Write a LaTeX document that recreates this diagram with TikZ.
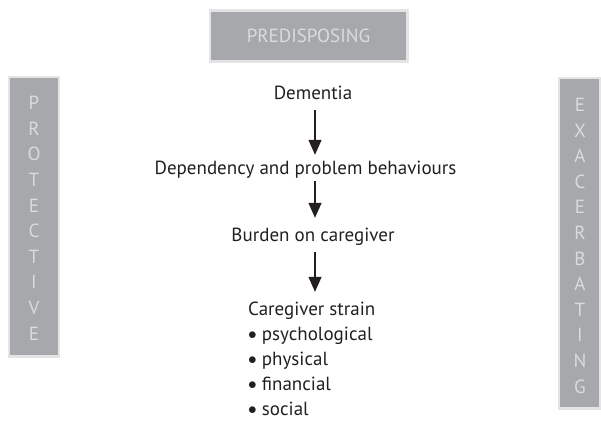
\documentclass[tikz,border=0pt]{standalone}
\usepackage{fontspec}
\setmainfont{PT Sans}
\usetikzlibrary{arrows.meta}
\definecolor{boxgray}{HTML}{A7A8AC}
\definecolor{boxedge}{HTML}{E4E4E4}
\definecolor{boxtext}{HTML}{DADBDD}
\definecolor{ink}{HTML}{231F20}
\newcommand{\bul}{\raisebox{0.5pt}{$\bullet$}\ }
\tikzset{
  sidebox/.style={fill=boxgray, draw=boxedge, line width=2.5pt},
  labeltext/.style={text=boxtext, font=\fontsize{19}{19}\selectfont, inner sep=0pt, anchor=base},
  vlabel/.style={text=boxtext, font=\fontsize{19}{25.6}\selectfont, inner sep=0pt, align=center, anchor=north},
  flow/.style={text=ink, font=\fontsize{19}{25}\selectfont, inner sep=0pt, text height=13pt, text depth=4pt, anchor=base},
  flowarrow/.style={draw=ink, line width=1.3pt, -{Triangle[width=13pt,length=15pt]}}
}
\begin{document}
\begin{tikzpicture}[x=1pt,y=-1pt]
\useasboundingbox (0,0) rectangle (601,420);
% boxes
\draw[sidebox] (210,10.5) rectangle (407.5,61.5);
\draw[sidebox] (9,77) rectangle (59,356.5);
\draw[sidebox] (559,78) rectangle (600,408.5);
\node[labeltext] (pre) at (308.5,43) {PREDISPOSING};
\node[vlabel] (pro) at (34,96) {P\\R\\O\\T\\E\\C\\T\\I\\V\\E};
\node[vlabel] (exa) at (580,98) {E\\X\\A\\C\\E\\R\\B\\A\\T\\I\\N\\G};
% flow
\node[flow] (dem) at (313,99) {Dementia};
\node[flow] (dep) at (305.5,174) {Dependency and problem behaviours};
\node[flow] (bur) at (313,241) {Burden on caregiver};
\node[flow, anchor=base west] (str) at (248,315) {Caregiver strain};
\node[flow, anchor=base west] (b1) at (248,340) {\bul psychological};
\node[flow, anchor=base west] (b2) at (248,365) {\bul physical};
\node[flow, anchor=base west] (b3) at (248,390) {\bul financial};
\node[flow, anchor=base west] (b4) at (248,415) {\bul social};
\coordinate (ax) at (315,0);
\draw[flowarrow, shorten <=7pt, shorten >=6pt] (dem.south -| ax) -- (dep.north -| ax);
\draw[flowarrow, shorten <=3pt, shorten >=10pt] (dep.south -| ax) -- (bur.north -| ax);
\draw[flowarrow, shorten <=7pt, shorten >=10pt] (bur.south -| ax) -- (str.north -| ax);
\end{tikzpicture}
\end{document}
